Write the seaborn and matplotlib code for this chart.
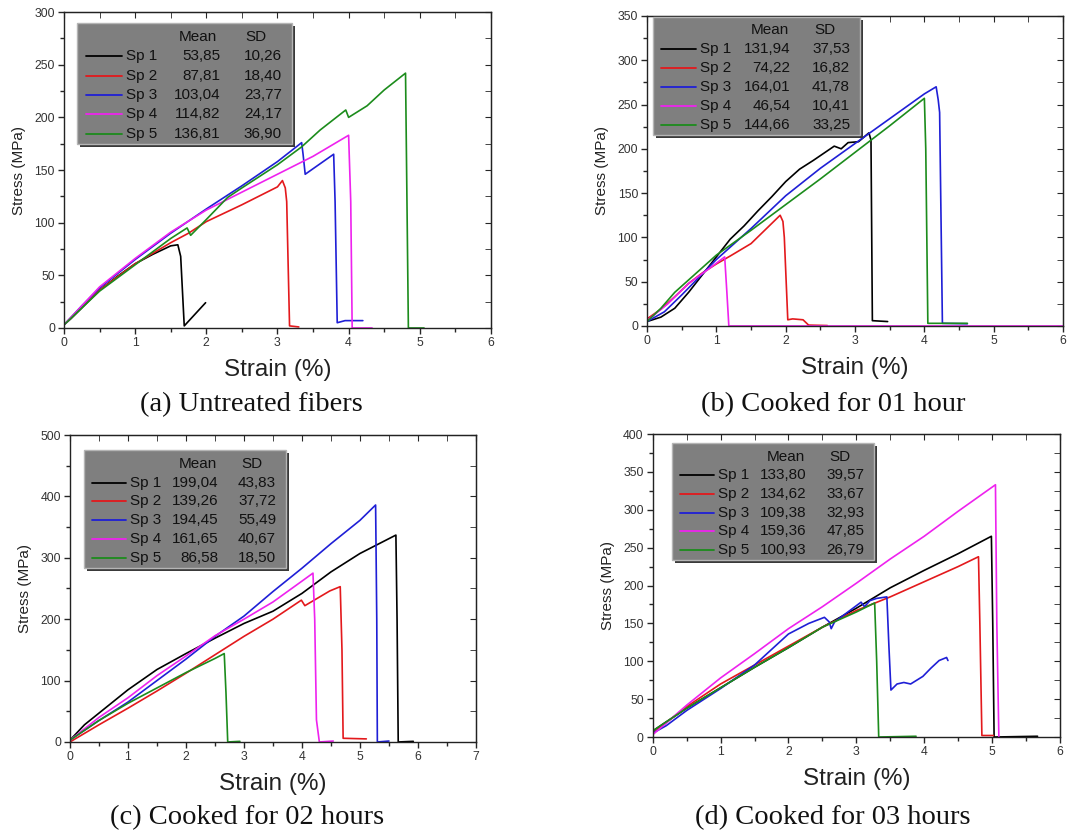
import pandas as pd
import seaborn as sns
import matplotlib.pyplot as plt
from matplotlib.patches import Rectangle
from matplotlib.ticker import MultipleLocator
from matplotlib import transforms

# ---- data ----
specimens = ['Sp 1', 'Sp 2', 'Sp 3', 'Sp 4', 'Sp 5']
colors = ['#000000', '#e3191c', '#1f1fd6', '#ee22ee', '#1c8c1c']

# (a) untreated
a1_x = [0, 0.1, 0.25, 0.5, 0.75, 1.0, 1.25, 1.5, 1.6, 1.64, 1.69, 1.99]
a1_y = [3, 9, 19, 36, 49, 61, 70, 78, 79, 68, 2, 24]
a2_x = [0, 0.25, 0.5, 1.0, 1.5, 1.75, 2.0, 2.5, 3.0, 3.07, 3.11, 3.13, 3.17, 3.3]
a2_y = [3, 20, 36, 61, 81, 90, 101, 117, 134, 140, 133, 120, 2, 1]
a3_x = [0, 0.25, 0.5, 1.0, 1.5, 2.0, 2.5, 3.0, 3.34, 3.36, 3.39, 3.79, 3.81, 3.84, 3.95, 4.2]
a3_y = [3, 21, 38, 65, 90, 113, 135, 158, 176, 165, 146, 165, 120, 5, 7, 7]
a4_x = [0, 0.5, 1.0, 1.5, 2.0, 2.5, 3.0, 3.5, 4.0, 4.03, 4.05, 4.33]
a4_y = [3, 39, 66, 91, 112, 129, 146, 163, 183, 120, 0, 0]
a5_x = [0, 0.5, 1.0, 1.5, 1.73, 1.78, 2.0, 2.3, 2.5, 3.0, 3.34, 3.6, 3.96, 4.0, 4.26, 4.5, 4.8, 4.84, 5.06]
a5_y = [3, 35, 60, 85, 95, 88, 103, 124, 133, 155, 172, 188, 207, 200, 211, 226, 242, 0, 0]
a_mean = [53.85, 87.81, 103.04, 114.82, 136.81]
a_sd = [10.26, 18.40, 23.77, 24.17, 36.90]

# (b) cooked 1 h
b1_x = [0, 0.2, 0.4, 0.6, 0.8, 1.0, 1.2, 1.4, 1.6, 1.8, 2.0, 2.2, 2.4, 2.55, 2.7, 2.8, 2.9, 3.05, 3.2, 3.23, 3.25, 3.47]
b1_y = [5, 10, 20, 38, 58, 78, 98, 113, 130, 146, 163, 177, 187, 195, 203, 200, 207, 208, 218, 210, 6, 5]
b2_x = [0, 0.2, 0.4, 0.6, 0.8, 1.0, 1.2, 1.5, 1.92, 1.96, 1.98, 2.03, 2.1, 2.25, 2.33, 2.6]
b2_y = [8, 19, 33, 48, 60, 70, 79, 93, 125, 118, 100, 7, 8, 7, 1, 0.5]
b3_x = [0, 0.25, 0.5, 0.75, 1.0, 1.5, 2.0, 2.5, 3.0, 3.5, 4.0, 4.17, 4.2, 4.22, 4.26, 4.62]
b3_y = [5, 16, 35, 55, 75, 110, 147, 178, 206, 234, 262, 270, 255, 241, 3, 2.5]
b4_x = [0, 0.3, 0.6, 0.9, 1.12, 1.15, 1.18, 6.0]
b4_y = [6, 25, 48, 65, 78, 40, 0, 0]
b5_x = [0, 0.2, 0.4, 0.6, 1.0, 1.5, 2.0, 2.5, 3.0, 3.5, 4.0, 4.02, 4.05, 4.6, 4.62]
b5_y = [5, 20, 38, 52, 80, 108, 137, 166, 196, 226, 257, 200, 3, 3, 3]
b_mean = [131.94, 74.22, 164.01, 46.54, 144.66]
b_sd = [37.53, 16.82, 41.78, 10.41, 33.25]

# (c) cooked 2 h
c1_x = [0, 0.25, 0.5, 1.0, 1.5, 2.0, 2.5, 3.0, 3.5, 4.0, 4.5, 5.0, 5.62, 5.64, 5.66, 5.92]
c1_y = [3, 28, 47, 85, 118, 144, 169, 193, 213, 242, 277, 307, 337, 200, 0, 1]
c2_x = [0, 0.5, 1.0, 1.5, 2.0, 2.5, 3.0, 3.5, 3.99, 4.05, 4.48, 4.66, 4.69, 4.71, 5.11]
c2_y = [0, 28, 55, 83, 112, 142, 172, 200, 231, 222, 246, 253, 150, 6, 5]
c3_x = [0, 0.5, 1.0, 1.5, 2.0, 2.5, 3.0, 3.5, 4.0, 4.5, 5.0, 5.27, 5.29, 5.3, 5.5]
c3_y = [3, 35, 65, 100, 135, 172, 205, 245, 283, 323, 361, 386, 200, 0, 1.5]
c4_x = [0, 0.5, 1.0, 1.5, 2.0, 2.5, 3.0, 3.5, 4.0, 4.19, 4.22, 4.25, 4.3, 4.54]
c4_y = [3, 40, 72, 108, 140, 173, 200, 228, 262, 275, 200, 36, 0, 1.5]
c5_x = [0, 0.5, 1.0, 1.5, 2.0, 2.5, 2.66, 2.69, 2.72, 2.93]
c5_y = [3, 35, 63, 88, 113, 136, 144, 80, 0, 1]
c_mean = [199.04, 139.26, 194.45, 161.65, 86.58]
c_sd = [43.83, 37.72, 55.49, 40.67, 18.50]

# (d) cooked 3 h
d1_x = [0, 0.5, 1.0, 1.5, 2.0, 2.5, 3.0, 3.5, 4.0, 4.5, 4.99, 5.01, 5.03, 5.67]
d1_y = [8, 38, 65, 92, 118, 145, 170, 197, 220, 242, 265, 150, 0, 1]
d2_x = [0, 0.5, 1.0, 1.5, 2.0, 2.5, 3.0, 3.5, 4.0, 4.5, 4.8, 4.82, 4.85, 5.02]
d2_y = [5, 40, 70, 95, 120, 145, 167, 185, 205, 225, 238, 150, 2, 2]
d3_x = [0, 0.2, 0.5, 1.0, 1.5, 2.0, 2.3, 2.53, 2.6, 2.63, 2.68, 2.8, 3.07, 3.12, 3.2, 3.3, 3.45,
        3.48, 3.51, 3.6, 3.7, 3.8, 3.98, 4.1, 4.22, 4.33, 4.35]
d3_y = [5, 15, 35, 64, 95, 136, 150, 158, 152, 143, 152, 160, 178, 172, 180, 183, 185,
        120, 62, 70, 72, 70, 80, 91, 101, 105, 101]
d4_x = [0, 0.5, 1.0, 1.5, 2.0, 2.5, 3.0, 3.5, 4.0, 4.5, 5.05, 5.07, 5.1]
d4_y = [3, 42, 78, 110, 143, 172, 203, 235, 265, 298, 333, 150, 0]
d5_x = [0, 0.5, 1.0, 1.5, 2.0, 2.5, 3.0, 3.27, 3.3, 3.33, 3.88]
d5_y = [8, 38, 65, 92, 118, 145, 165, 177, 100, 0, 1]
d_mean = [133.80, 134.62, 109.38, 159.36, 100.93]
d_sd = [39.57, 33.67, 32.93, 47.85, 26.79]

captions = ['(a) Untreated fibers', '(b) Cooked for 01 hour',
            '(c) Cooked for 02 hours', '(d) Cooked for 03 hours']

panels = [
    dict(curves=[(a1_x, a1_y), (a2_x, a2_y), (a3_x, a3_y), (a4_x, a4_y), (a5_x, a5_y)],
         mean=a_mean, sd=a_sd, xmax=6, ymax=300, ystep=50,
         pos=[0.0598, 0.6086, 0.399, 0.377], box=(0.031, 0.535, 0.582, 0.966),
         cap=(251, 405)),
    dict(curves=[(b1_x, b1_y), (b2_x, b2_y), (b3_x, b3_y), (b4_x, b4_y), (b5_x, b5_y)],
         mean=b_mean, sd=b_sd, xmax=6, ymax=350, ystep=50,
         pos=[0.6047, 0.611, 0.3888, 0.370], box=(0.0145, 0.5125, 0.617, 0.998),
         cap=(833, 405)),
    dict(curves=[(c1_x, c1_y), (c2_x, c2_y), (c3_x, c3_y), (c4_x, c4_y), (c5_x, c5_y)],
         mean=c_mean, sd=c_sd, xmax=7, ymax=500, ystep=100,
         pos=[0.0654, 0.1146, 0.3794, 0.3663], box=(0.0345, 0.532, 0.566, 0.951),
         cap=(247, 818)),
    dict(curves=[(d1_x, d1_y), (d2_x, d2_y), (d3_x, d3_y), (d4_x, d4_y), (d5_x, d5_y)],
         mean=d_mean, sd=d_sd, xmax=6, ymax=400, ystep=50,
         pos=[0.61, 0.1205, 0.3806, 0.3616], box=(0.0466, 0.544, 0.584, 0.969),
         cap=(833, 818)),
]

sns.set_style('ticks')
plt.rcParams['font.family'] = ['Liberation Sans', 'DejaVu Sans']

W, H = 1070, 838
fig = plt.figure(figsize=(W / 100, H / 100), dpi=100)


def fmt(v):
    return f'{v:.2f}'.replace('.', ',')


def draw_box(ax, box, mean, sd):
    x0, x1, y0, y1 = box
    shadow_tr = transforms.offset_copy(ax.transAxes, fig=fig, x=3, y=-3, units='dots')
    ax.add_patch(Rectangle((x0, y0), x1 - x0, y1 - y0, transform=shadow_tr,
                           facecolor='#3a3a3a', edgecolor='none', zorder=5, clip_on=False))
    ax.add_patch(Rectangle((x0, y0), x1 - x0, y1 - y0, transform=ax.transAxes,
                           facecolor='#7f7f7f', edgecolor='#b5b5b5', lw=1.0, zorder=6,
                           clip_on=False))
    bx = lambda f: x0 + f * (x1 - x0)
    by = lambda f: y1 - f * (y1 - y0)
    kw = dict(transform=ax.transAxes, fontsize=11, color='#111111', zorder=7, va='center')
    ax.text(bx(0.563), by(0.116), 'Mean', ha='center', **kw)
    ax.text(bx(0.830), by(0.116), 'SD', ha='center', **kw)
    rows = [0.275, 0.435, 0.595, 0.755, 0.914]
    for i, r in enumerate(rows):
        ax.plot([bx(0.039), bx(0.209)], [by(r), by(r)], color=colors[i], lw=1.3,
                transform=ax.transAxes, zorder=7, clip_on=False)
        ax.text(bx(0.228), by(r), specimens[i], ha='left', **kw)
        ax.text(bx(0.664), by(r), fmt(mean[i]), ha='right', **kw)
        ax.text(bx(0.951), by(r), fmt(sd[i]), ha='right', **kw)


for p, cap in zip(panels, captions):
    ax = fig.add_axes(p['pos'])
    frames = []
    for name, (xs, ys) in zip(specimens, p['curves']):
        frames.append(pd.DataFrame({'strain': xs, 'stress': ys, 'specimen': name}))
    df = pd.concat(frames, ignore_index=True)
    sns.lineplot(data=df, x='strain', y='stress', hue='specimen', palette=colors,
                 sort=False, estimator=None, legend=False, lw=1.2, ax=ax)

    ax.set_xlim(0, p['xmax'])
    ax.set_ylim(0, p['ymax'])
    ax.xaxis.set_major_locator(MultipleLocator(1))
    ax.xaxis.set_minor_locator(MultipleLocator(0.5))
    ax.yaxis.set_major_locator(MultipleLocator(p['ystep']))
    ax.yaxis.set_minor_locator(MultipleLocator(p['ystep'] / 2))
    ax.tick_params(which='major', direction='out', length=4.5, width=1, labelsize=8.8,
                   labelcolor='#333333', pad=2)
    ax.tick_params(which='minor', direction='out', length=3, width=1)
    for side in ax.spines.values():
        side.set_linewidth(1.0)
        side.set_color('#222222')

    top = ax.secondary_xaxis('top')
    top.xaxis.set_major_locator(MultipleLocator(1))
    top.xaxis.set_minor_locator(MultipleLocator(0.5))
    top.tick_params(which='both', direction='in', length=4, labeltop=False)
    right = ax.secondary_yaxis('right')
    right.yaxis.set_major_locator(MultipleLocator(p['ystep']))
    right.yaxis.set_minor_locator(MultipleLocator(p['ystep'] / 2))
    right.tick_params(which='both', direction='in', length=4, labelright=False)

    ax.set_xlabel('Strain (%)', fontsize=17.5, color='#222222', labelpad=7)
    ax.set_ylabel('Stress (MPa)', fontsize=11, color='#222222', labelpad=6)

    draw_box(ax, p['box'], p['mean'], p['sd'])

    cx, cy = p['cap']
    fig.text(cx / W, 1 - cy / H, cap, ha='center', va='center', fontsize=20.5,
             family=['Liberation Serif', 'DejaVu Serif'], color='#111111')

fig.savefig('out.png', dpi=100)
